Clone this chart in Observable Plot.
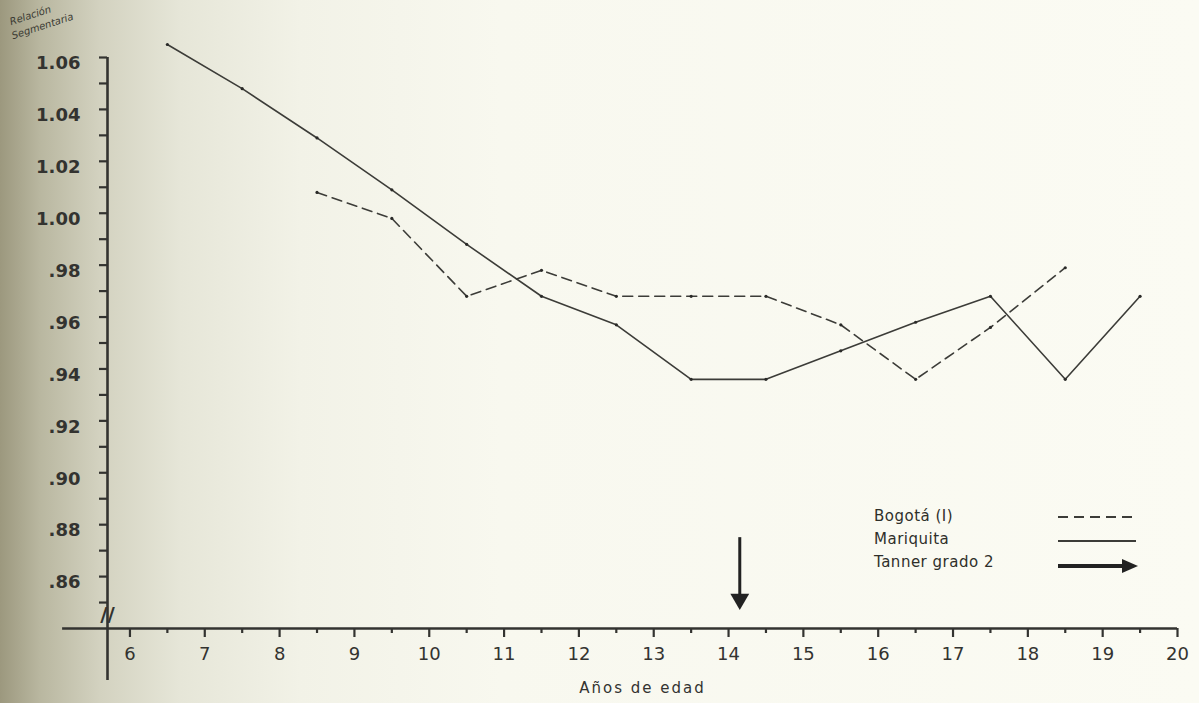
<!DOCTYPE html>
<html>
<head>
<meta charset="utf-8">
<script src="https://cdn.jsdelivr.net/npm/d3@7"></script>
<script src="https://cdn.jsdelivr.net/npm/@observablehq/plot@0.6"></script>
<style>
  html, body { margin: 0; padding: 0; }
  body {
    width: 1199px; height: 703px; overflow: hidden; position: relative;
    background: linear-gradient(90deg, #9c987e 0px, #b9b7a0 40px, #d3d2c0 100px, #e6e6d8 180px, #f2f2e7 300px, #f8f8ef 500px, #fbfbf3 1199px);
    font-family: "DejaVu Sans", sans-serif; color: #2b2b26;
  }
  #chart { position: absolute; left: 0; top: 0; }
  .ytitle { position: absolute; font-size: 10px; line-height: 12px; font-style: italic; color: #3a3a33; transform-origin: left bottom; transform: rotate(-18deg); white-space: nowrap; }
  #legend { position: absolute; left: 874px; top: 505px; font-size: 15px; letter-spacing: 0.5px; color: #2f2f2a; }
  #legend .row { position: relative; height: 23px; line-height: 23px; }
  #legend svg { position: absolute; left: 184px; top: 4px; }
</style>
</head>
<body>
<div id="chart"></div>
<div class="ytitle" style="left:12px; top:16px;">Relación</div>
<div class="ytitle" style="left:14px; top:30px;">Segmentaria</div>
<div id="legend"></div>
<script>
// ---- data ----
const ages = [6.5, 7.5, 8.5, 9.5, 10.5, 11.5, 12.5, 13.5, 14.5, 15.5, 16.5, 17.5, 18.5, 19.5];
const mariquita = [1.065, 1.048, 1.029, 1.009, 0.988, 0.968, 0.957, 0.936, 0.936, 0.947, 0.958, 0.968, 0.936, 0.968];
const bogotaAges = [8.5, 9.5, 10.5, 11.5, 12.5, 13.5, 14.5, 15.5, 16.5, 17.5, 18.5];
const bogota = [1.008, 0.998, 0.968, 0.978, 0.968, 0.968, 0.968, 0.957, 0.936, 0.956, 0.979];
const xTicks = [6, 7, 8, 9, 10, 11, 12, 13, 14, 15, 16, 17, 18, 19, 20];
const xMinorTicks = [6.5, 7.5, 8.5, 9.5, 10.5, 11.5, 12.5, 13.5, 14.5, 15.5, 16.5, 17.5, 18.5, 19.5];
const yTicks = [0.86, 0.88, 0.90, 0.92, 0.94, 0.96, 0.98, 1.00, 1.02, 1.04, 1.06];
const yMinorTicks = [0.85, 0.86, 0.87, 0.88, 0.89, 0.90, 0.91, 0.92, 0.93, 0.94, 0.95, 0.96, 0.97, 0.98, 0.99, 1.00, 1.01, 1.02, 1.03, 1.04, 1.05, 1.06];
const tannerAge = 14.15;
const tannerArrow = [{x: tannerAge, top: 0.875, tip: 0.849}];
const legendItems = ["Bogotá (I)", "Mariquita", "Tanner grado 2"];
const xLabel = "Años de edad";

const mariquitaData = ages.map((a, i) => ({age: a, v: mariquita[i]}));
const bogotaData = bogotaAges.map((a, i) => ({age: a, v: bogota[i]}));

const ink = "#333330";
const yFmt = v => v >= 1 ? v.toFixed(2) : v.toFixed(2).slice(1);

const plot = Plot.plot({
  width: 1199,
  height: 703,
  marginLeft: 107,
  marginRight: 22,
  marginTop: 57,
  marginBottom: 75,
  style: {background: "transparent", fontFamily: "DejaVu Sans, sans-serif", color: ink},
  x: {domain: [5.7, 20]},
  y: {domain: [0.84, 1.06]},
  marks: [
    // axis lines
    Plot.ruleY([0.84], {x1: 5.1, x2: 20, stroke: ink, strokeWidth: 2.6}),
    Plot.ruleX([5.7], {y1: 0.82, y2: 1.06, stroke: ink, strokeWidth: 2.6}),
    // y axis ticks & labels
    Plot.axisY(yMinorTicks, {tickSize: 8, tickFormat: () => "", stroke: ink, strokeWidth: 2.2, label: null}),
    Plot.axisY(yTicks, {tickSize: 0, tickPadding: 27, tickFormat: yFmt, fontSize: 18, fontWeight: 600, dy: 6, fill: ink, label: null}),
    // x axis ticks & labels
    Plot.axisX(xMinorTicks, {tickSize: 5, tickFormat: () => "", stroke: ink, strokeWidth: 2.2, label: null}),
    Plot.axisX(xTicks, {tickSize: 9, tickPadding: 10, fontSize: 18, stroke: ink, strokeWidth: 2.2, fill: ink,
      label: xLabel, labelAnchor: "center", labelArrow: "none", labelOffset: 64}),
    // axis break
    Plot.text(["//"], {x: 5.7, y: 0.8455, text: d => d, fontSize: 20, fontWeight: "bold", fill: ink}),
    // series
    Plot.line(bogotaData, {x: "age", y: "v", stroke: "#3c3c38", strokeWidth: 1.6, strokeDasharray: "10,6"}),
    Plot.line(mariquitaData, {x: "age", y: "v", stroke: "#3c3c38", strokeWidth: 1.6}),
    Plot.dot(bogotaData, {x: "age", y: "v", r: 1.6, fill: "#2a2a28"}),
    Plot.dot(mariquitaData, {x: "age", y: "v", r: 1.6, fill: "#2a2a28"}),
    // Tanner arrow
    Plot.ruleX(tannerArrow, {x: "x", y1: "top", y2: "tip", stroke: "#222", strokeWidth: 3}),
    Plot.dot(tannerArrow, {x: "x", y: "tip", symbol: "triangle", r: 7, rotate: 180, fill: "#222", stroke: "none", dy: -6})
  ]
});
document.getElementById("chart").appendChild(plot);

// style the axis label
d3.select(plot).selectAll("text").filter(function() { return this.textContent === xLabel; })
  .attr("font-size", 15).attr("letter-spacing", "2px");

// legend
const legend = d3.select("#legend");
const samples = [
  g => g.append("line").attr("x1", 0).attr("x2", 78).attr("y1", 8).attr("y2", 8).attr("stroke", "#3c3c38").attr("stroke-width", 1.8).attr("stroke-dasharray", "10,6"),
  g => g.append("line").attr("x1", 0).attr("x2", 78).attr("y1", 9).attr("y2", 9).attr("stroke", "#3c3c38").attr("stroke-width", 1.8),
  g => {
    g.append("line").attr("x1", 0).attr("x2", 66).attr("y1", 11).attr("y2", 11).attr("stroke", "#222").attr("stroke-width", 4);
    g.append("path").attr("d", "M64,4 L80,11 L64,18 Z").attr("fill", "#222");
  }
];
legendItems.forEach((t, i) => {
  const row = legend.append("div").attr("class", "row");
  row.append("span").text(t);
  const svg = row.append("svg").attr("width", 84).attr("height", 22);
  samples[i](svg);
});
</script>
</body>
</html>
